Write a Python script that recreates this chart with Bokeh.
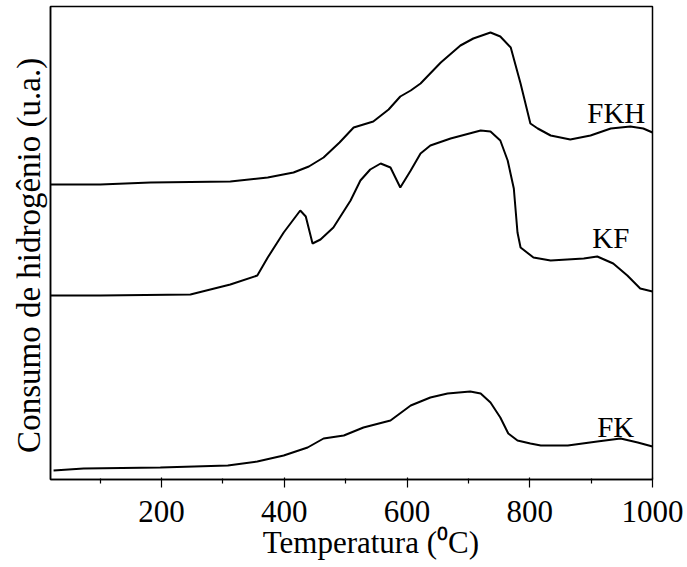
from bokeh.plotting import figure
from bokeh.models import Range1d, FixedTicker, Label
from bokeh.embed import file_html
from bokeh.resources import INLINE

# Temperature (°C) and hydrogen consumption (arbitrary units, stacked/offset curves)
fkh_t = [19, 100, 182, 312, 373, 415, 440, 464, 490, 513, 545, 570, 589, 606, 622, 655,
         687, 708, 736, 752, 769, 785, 801, 813, 834, 866, 899, 932, 964, 985, 1000]
fkh_y = [295, 295, 297, 298, 302, 307, 313, 322, 337, 352, 358, 370, 383, 389, 396, 417,
         434, 441, 447, 443, 432, 396, 356, 351, 344, 340, 344, 351, 353, 351, 347]

kf_t = [19, 100, 247, 312, 356, 373, 399, 426, 435, 446, 459, 480, 508, 524, 540, 557,
        573, 589, 606, 622, 638, 671, 720, 736, 752, 764, 774, 780, 785, 806, 834, 888,
        910, 936, 959, 980, 1000]
kf_y = [184, 184, 185, 195, 204, 222, 247, 269, 263, 236, 240, 252, 279, 299, 310, 316,
        312, 292, 309, 326, 334, 341, 349, 348, 339, 319, 291, 247, 232, 222, 219, 221,
        223, 216, 204, 191, 188]

fk_t = [24, 73, 198, 308, 356, 399, 438, 464, 497, 529, 573, 606, 638, 666, 703, 720,
        736, 752, 765, 780, 801, 818, 862, 910, 948, 976, 1000]
fk_y = [9, 11, 12, 14, 18, 24, 32, 41, 44, 52, 59, 74, 82, 86, 88, 86,
        77, 62, 46, 39, 36, 34, 34, 38, 41, 37, 33]

series_names = ["FKH", "KF", "FK"]
label_t = [941, 932, 940]
label_y = [367, 242, 53]

major_ticks = [200, 400, 600, 800, 1000]
minor_ticks = [100, 300, 500, 700, 900]

NB = "\u00a0"
x_title = NB * 5 + "Temperatura (\u2070C)"
y_title = "Consumo de hidrogênio (u.a.)" + NB * 3

FONT = "Liberation Serif"

p = figure(width=687, height=567, output_backend="svg", toolbar_location=None,
           x_range=Range1d(19, 1000), y_range=Range1d(0, 473),
           min_border_left=50, min_border_right=35, min_border_top=6, min_border_bottom=88,
           background_fill_color="white", border_fill_color="white")

p.xgrid.visible = False
p.ygrid.visible = False
p.outline_line_color = "black"
p.outline_line_width = 1.5
p.outline_line_alpha = 1.0

for t, y in [(fkh_t, fkh_y), (kf_t, kf_y), (fk_t, fk_y)]:
    p.line(t, y, line_color="black", line_width=2)

for name, t, y in zip(series_names, label_t, label_y):
    p.add_layout(Label(x=t, y=y, text=name, text_align="center", text_baseline="alphabetic",
                       text_font=FONT, text_font_size="29px", text_color="black"))

xa = p.xaxis[0]
xa.ticker = FixedTicker(ticks=major_ticks, minor_ticks=minor_ticks)
xa.axis_label = x_title
xa.axis_label_text_font = FONT
xa.axis_label_text_font_size = "31px"
xa.axis_label_text_font_style = "normal"
xa.axis_label_text_color = "black"
xa.axis_label_standoff = 0
xa.major_label_text_font = FONT
xa.major_label_text_font_size = "31px"
xa.major_label_text_color = "black"
xa.major_label_standoff = 13
xa.axis_line_color = "black"
xa.axis_line_width = 1.5
xa.major_tick_line_color = "black"
xa.major_tick_line_width = 1.2
xa.major_tick_out = 8
xa.major_tick_in = 2
xa.minor_tick_line_color = "black"
xa.minor_tick_line_width = 1.2
xa.minor_tick_out = 4
xa.minor_tick_in = 1

ya = p.yaxis[0]
ya.ticker = FixedTicker(ticks=[])
ya.axis_label = y_title
ya.axis_label_text_font = FONT
ya.axis_label_text_font_size = "33px"
ya.axis_label_text_font_style = "normal"
ya.axis_label_text_color = "black"
ya.axis_label_standoff = 4
ya.axis_line_color = "black"
ya.axis_line_width = 1.5
ya.major_tick_line_color = None
ya.minor_tick_line_color = None
ya.major_label_text_font_size = "0px"

open("out.html", "w").write(file_html(p, INLINE))
